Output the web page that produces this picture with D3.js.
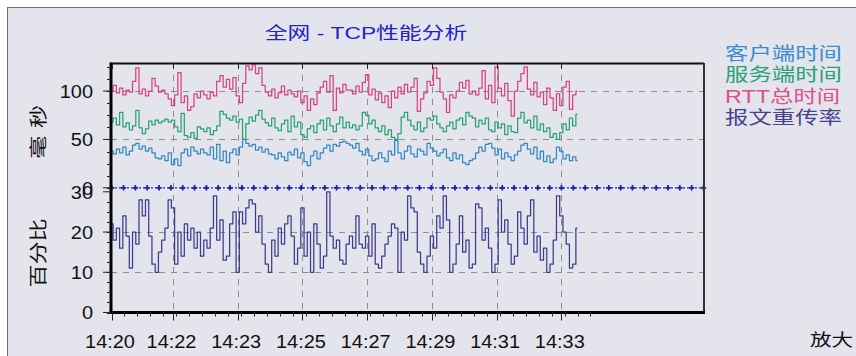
<!DOCTYPE html>
<html><head><meta charset="utf-8">
<script src="https://cdn.jsdelivr.net/npm/d3@7"></script>
<style>html,body{margin:0;padding:0;background:#fff;} svg{display:block;}</style>
</head><body><svg id="c" width="856" height="356"></svg>
<script>
const chartTitle = "全网 - TCP性能分析";
const seriesNames = ["客户端时间", "服务端时间", "RTT总时间", "报文重传率"];
const msAxisTitle = "毫秒";
const pctAxisTitle = "百分比";
const zoomLabel = "放大";
const xTickLabels = ["14:20", "14:22", "14:23", "14:25", "14:27", "14:29", "14:31", "14:33"];
const xTickIndex = [0, 19, 39, 59, 79, 99, 119, 139];
const msTicks = [0, 50, 100];
const msGrid = [50, 100];
const pctTicks = [0, 10, 20, 30];
const pctGrid = [10, 20];
const msMax = 129;
const pctMax = 30;

const rttTime = [
100,106,98,103,96,101,99,110,124,97,
102,95,100,113,105,99,101,97,92,85,
96,119,88,95,80,84,97,93,100,96,
92,99,95,110,116,104,112,102,114,95,
88,108,126,122,127,118,124,106,99,95,
102,93,98,105,96,101,97,94,100,88,
95,80,92,86,98,104,110,99,116,80,
103,98,107,101,101,97,105,99,109,117,
96,102,91,98,88,95,83,100,93,104,
97,107,99,104,113,79,92,98,110,106,
124,113,99,92,78,96,93,100,109,103,
111,97,100,96,103,121,92,106,88,125,
103,95,108,90,74,100,110,118,125,102,
96,109,94,99,86,103,93,80,97,85,
104,110,81,96,100];

const serverTime = [
68,72,65,78,63,67,60,64,80,62,
56,61,69,65,70,67,69,71,68,70,
63,58,77,54,52,57,51,63,61,58,
62,55,59,64,79,76,72,70,74,68,
71,50,66,73,69,75,80,71,67,64,
72,62,59,66,70,58,74,63,68,55,
52,61,64,57,66,70,60,72,64,58,
66,73,62,68,62,65,60,64,78,75,
66,70,62,58,64,55,60,52,50,56,
73,78,70,64,60,68,58,62,72,70,
74,66,62,58,64,68,61,70,72,65,
78,74,72,63,70,66,72,60,58,68,
62,66,55,64,58,57,72,78,67,70,
62,74,60,66,58,62,52,56,50,57,
66,60,72,64,76];

const clientTime = [
38,35,40,36,42,34,38,44,46,40,
43,38,41,36,31,30,33,28,36,24,
30,23,36,40,33,42,38,35,40,36,
34,42,30,45,28,38,26,36,40,34,
42,50,46,43,45,39,42,37,40,35,
34,30,36,32,28,37,34,40,31,36,
27,23,33,38,30,36,41,44,38,45,
43,47,48,46,44,41,46,38,34,40,
33,28,30,36,31,27,38,34,49,36,
30,38,43,35,32,40,38,34,46,41,
38,33,36,40,31,28,36,30,34,26,
24,28,30,36,42,38,45,46,41,34,
40,30,36,32,28,34,38,44,46,40,
35,42,30,38,27,33,26,30,42,38,
30,34,28,32,28];

const retransRate = [
22,18,21,16,24,19,11,20,17,28,
24,28,19,12,10,15,18,21,28,26,
12,20,14,22,18,21,16,20,14,18,
16,21,29,18,23,13,14,22,25,10,
25,22,26,28,27,20,24,17,12,10,
18,14,21,17,22,24,19,12,16,26,
14,20,10,22,17,11,14,30,19,16,
18,13,12,17,19,16,24,17,16,19,
14,22,12,11,14,17,19,22,21,10,
20,18,29,26,25,15,12,10,14,19,
16,24,21,29,23,10,12,17,24,15,
18,11,12,27,26,18,21,16,10,12,
28,20,23,17,12,14,25,21,17,24,
28,15,19,13,16,10,12,18,29,24,
20,17,11,12,21];

const seriesColors = ["#3089c4", "#25a374", "#d8427d", "#3f3b8e"];
const legendColors = ["#3a8ccb", "#2aa274", "#e0508a", "#4a3f8c"];

const svg = d3.select("#c");
const W = 856, H = 356;
const P = {left: 111, right: 704, top: 63, bottom: 312.5};
const N = rttTime.length;
const LATIN = "'Liberation Sans', Arial, 'Noto Sans CJK SC', sans-serif";

// background frame
svg.append("rect").attr("width", W).attr("height", H).attr("fill", "#ffffff");
svg.append("rect").attr("x", 7.5).attr("y", 7.5).attr("width", W + 10).attr("height", H + 10)
  .attr("fill", "#e4e4ed").attr("stroke", "#6e6e72").attr("stroke-width", 1);

const x = d3.scaleLinear().domain([0, N - 1]).range([P.left + 0.5, 577.5]);
const yMs = d3.scaleLinear().domain([0, msMax]).range([187.8, P.top]);
const yPct = d3.scaleLinear().domain([0, pctMax]).range([P.bottom, 191.8]);

function addText(px, py, str, o) {
  o = o || {};
  const g = svg.append("g").attr("transform",
    `translate(${px},${py}) rotate(${o.rot || 0}) scale(${o.sx || 1},1)`);
  const t = g.append("text").text(str)
    .attr("font-family", LATIN)
    .attr("font-size", o.size || 18)
    .attr("fill", o.fill || "#000")
    .attr("text-anchor", o.anchor || "start")
    .attr("dominant-baseline", "central");
  if (o.ls) t.attr("letter-spacing", o.ls);
  return t;
}

// gridlines
const grid = svg.append("g").attr("stroke", "#8c8c90").attr("stroke-width", 1)
  .attr("stroke-dasharray", "6,6");
msGrid.forEach(v => grid.append("line").attr("x1", P.left).attr("x2", P.right)
  .attr("y1", Math.round(yMs(v)) + 0.5).attr("y2", Math.round(yMs(v)) + 0.5));
pctGrid.forEach(v => grid.append("line").attr("x1", P.left).attr("x2", P.right)
  .attr("y1", Math.round(yPct(v)) + 0.5).attr("y2", Math.round(yPct(v)) + 0.5));
xTickIndex.slice(1).forEach(i => grid.append("line")
  .attr("x1", Math.round(x(i)) + 0.5).attr("x2", Math.round(x(i)) + 0.5)
  .attr("y1", P.top).attr("y2", P.bottom));

// series lines
const lineMs = d3.line().x((d, i) => x(i)).y(d => yMs(d)).curve(d3.curveStep);
const linePct = d3.line().x((d, i) => x(i)).y(d => yPct(d)).curve(d3.curveStep);
const lines = svg.append("g").attr("fill", "none").attr("stroke-width", 1.25)
  .attr("stroke-linejoin", "round");
lines.append("path").attr("d", lineMs(rttTime)).attr("stroke", seriesColors[2]);
lines.append("path").attr("d", lineMs(serverTime)).attr("stroke", seriesColors[1]);
lines.append("path").attr("d", lineMs(clientTime)).attr("stroke", seriesColors[0]);
lines.append("path").attr("d", linePct(retransRate)).attr("stroke", seriesColors[3]);

// panel separator: dotted line with + markers at 0 ms
const sepY = yMs(0);
svg.append("line").attr("x1", P.left).attr("x2", P.right).attr("y1", sepY).attr("y2", sepY)
  .attr("stroke", "#2020b8").attr("stroke-width", 1.3).attr("stroke-dasharray", "2,2");
const mk = d3.scaleLinear().domain([0, 50]).range([P.left + 0.7, P.right - 0.5]);
svg.append("g").selectAll("path").data(d3.range(51)).join("path")
  .attr("transform", d => `translate(${mk(d)},${sepY})`)
  .attr("d", d3.symbol(d3.symbolCross, 16)).attr("fill", "#1e1eb0");

// plot frame
svg.append("line").attr("x1", P.left - 1).attr("x2", P.right).attr("y1", P.top + 0.5).attr("y2", P.top + 0.5)
  .attr("stroke", "#111").attr("stroke-width", 2);
svg.append("line").attr("x1", P.right).attr("x2", P.right).attr("y1", P.top).attr("y2", P.bottom)
  .attr("stroke", "#333").attr("stroke-width", 2);
svg.append("line").attr("x1", P.left).attr("x2", P.left).attr("y1", P.top - 0.5).attr("y2", P.bottom + 1.5)
  .attr("stroke", "#000").attr("stroke-width", 3);
svg.append("line").attr("x1", P.left - 1.5).attr("x2", P.right + 1).attr("y1", P.bottom).attr("y2", P.bottom)
  .attr("stroke", "#000").attr("stroke-width", 3);

// x axis ticks and labels
const tk = svg.append("g").attr("stroke", "#222").attr("stroke-width", 1);
xTickIndex.forEach(i => {
  const px = Math.round(x(i)) + 0.5;
  tk.append("line").attr("x1", px).attr("x2", px).attr("y1", P.bottom).attr("y2", P.bottom + 8);
  tk.append("line").attr("x1", px).attr("x2", px).attr("y1", P.top).attr("y2", P.top + 6);
});
d3.range(0, N + 6, 4).forEach(i => {
  const px = x(i);
  if (px > P.right) return;
  tk.append("line").attr("x1", Math.round(px) + 0.5).attr("x2", Math.round(px) + 0.5)
    .attr("y1", P.bottom).attr("y2", P.bottom + 4);
});
xTickLabels.forEach((s, k) => addText(x(xTickIndex[k]) - 1.5, 341, s, {size: 19, anchor: "middle", sx: 1.05, fill: "#111"}));

// y axis ticks and labels
msTicks.forEach(v => {
  const py = yMs(v);
  tk.append("line").attr("x1", P.left - 8).attr("x2", P.left).attr("y1", py).attr("y2", py);
  addText(93, py, String(v), {size: 19, anchor: "end", sx: 1.05, fill: "#111"});
});
pctTicks.forEach(v => {
  const py = yPct(v);
  tk.append("line").attr("x1", P.left - 8).attr("x2", P.left).attr("y1", py).attr("y2", py);
  addText(93, py, String(v), {size: 19, anchor: "end", sx: 1.05, fill: "#111"});
});
d3.range(0, msMax, 12.5).forEach(v => tk.append("line").attr("x1", P.left - 4).attr("x2", P.left)
  .attr("y1", Math.round(yMs(v)) + 0.5).attr("y2", Math.round(yMs(v)) + 0.5));
d3.range(0, pctMax, 2.5).forEach(v => tk.append("line").attr("x1", P.left - 4).attr("x2", P.left)
  .attr("y1", Math.round(yPct(v)) + 0.5).attr("y2", Math.round(yPct(v)) + 0.5));

// axis titles
addText(38, 128, msAxisTitle, {size: 18, anchor: "middle", rot: -90, sx: 1.28, ls: 6, fill: "#111"});
addText(38, 253, pctAxisTitle, {size: 18, anchor: "middle", rot: -90, sx: 1.28, fill: "#111"});

// title
addText(366, 33, chartTitle, {size: 17, anchor: "middle", sx: 1.34, fill: "#2222c8"});

// legend
seriesNames.forEach((s, k) => addText(725, 53.5 + k * 21.3, s, {size: 18, sx: 1.3, fill: legendColors[k]}));

// zoom label
addText(810, 340, zoomLabel, {size: 17, sx: 1.27, fill: "#111"});
</script>
</body></html>
